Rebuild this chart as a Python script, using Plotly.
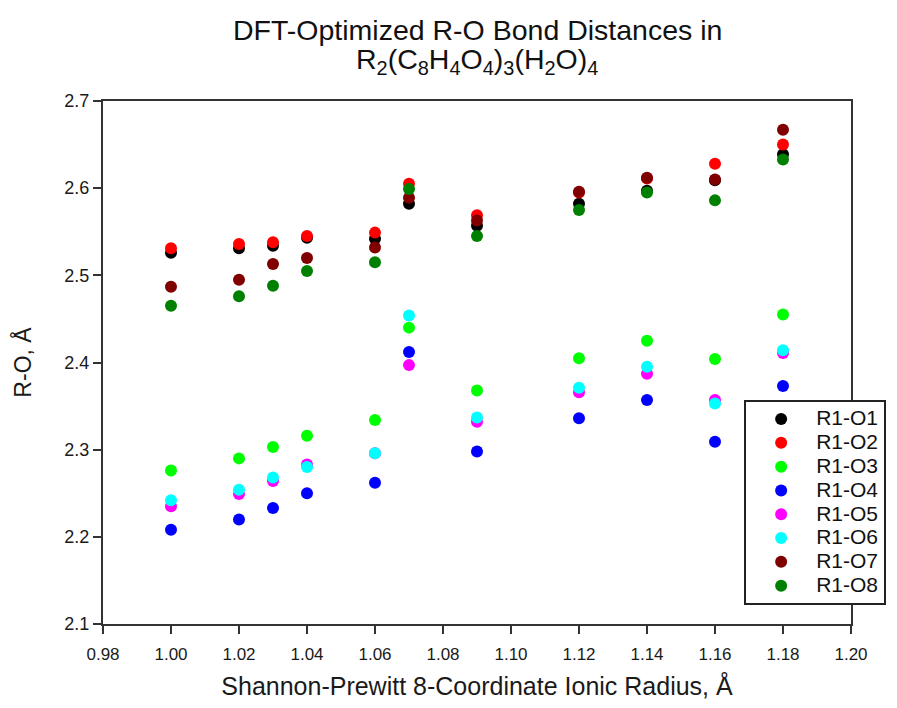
import plotly.graph_objects as go

# Shannon-Prewitt 8-coordinate ionic radii (Å)
radius = [1.00, 1.02, 1.03, 1.04, 1.06, 1.07, 1.09, 1.12, 1.14, 1.16, 1.18]

# DFT-optimized R1-O bond distances (Å)
r1_o1 = [2.526, 2.531, 2.534, 2.543, 2.542, 2.582, 2.557, 2.582, 2.597, 2.609, 2.639]
r1_o2 = [2.531, 2.536, 2.538, 2.545, 2.549, 2.605, 2.569, 2.595, 2.611, 2.628, 2.650]
r1_o3 = [2.276, 2.290, 2.303, 2.316, 2.334, 2.440, 2.368, 2.405, 2.425, 2.404, 2.455]
r1_o4 = [2.208, 2.220, 2.233, 2.250, 2.262, 2.412, 2.298, 2.336, 2.357, 2.309, 2.373]
r1_o5 = [2.235, 2.249, 2.264, 2.283, 2.296, 2.397, 2.332, 2.366, 2.387, 2.357, 2.411]
r1_o6 = [2.242, 2.254, 2.268, 2.280, 2.296, 2.454, 2.337, 2.371, 2.395, 2.353, 2.414]
r1_o7 = [2.487, 2.495, 2.513, 2.520, 2.532, 2.589, 2.563, 2.596, 2.612, 2.610, 2.667]
r1_o8 = [2.465, 2.476, 2.488, 2.505, 2.515, 2.599, 2.545, 2.575, 2.595, 2.586, 2.633]

series_names = ["R1-O1", "R1-O2", "R1-O3", "R1-O4", "R1-O5", "R1-O6", "R1-O7", "R1-O8"]
series_values = [r1_o1, r1_o2, r1_o3, r1_o4, r1_o5, r1_o6, r1_o7, r1_o8]
series_colors = ["#000000", "#FF0000", "#00FF00", "#0000FF",
                 "#FF00FF", "#00FFFF", "#800000", "#008000"]

x_ticks = [0.98, 1.00, 1.02, 1.04, 1.06, 1.08, 1.10, 1.12, 1.14, 1.16, 1.18, 1.20]
y_ticks = [2.1, 2.2, 2.3, 2.4, 2.5, 2.6, 2.7]

FONT = "Liberation Sans, Arial, sans-serif"

fig = go.Figure()
for name, vals, col in zip(series_names, series_values, series_colors):
    fig.add_trace(go.Scatter(
        x=radius, y=vals, mode="markers",
        # legend entries use a larger glyph size than the compact row spacing
        name=f'<span style="font-size:21px">{name}</span>',
        marker=dict(color=col, size=12, line=dict(width=0)),
    ))

# two-line chart title with chemical formula subscripts
fig.add_annotation(
    text="DFT-Optimized R-O Bond Distances in",
    xref="paper", yref="paper", x=0.5, y=(624 - 30) / 523,
    xanchor="center", yanchor="middle", showarrow=False,
    font=dict(family=FONT, size=28.5, color="#111111"),
)
fig.add_annotation(
    text="R<sub>2</sub>(C<sub>8</sub>H<sub>4</sub>O<sub>4</sub>)<sub>3</sub>(H<sub>2</sub>O)<sub>4</sub>",
    xref="paper", yref="paper", x=0.5, y=(624 - 61) / 523,
    xanchor="center", yanchor="middle", showarrow=False,
    font=dict(family=FONT, size=28.5, color="#111111"),
)

fig.update_layout(
    width=897, height=708,
    margin=dict(l=103, r=45, t=101, b=84),
    paper_bgcolor="white", plot_bgcolor="white",
    font=dict(family=FONT, color="#1a1a1a", size=17),
    showlegend=True,
    legend=dict(
        x=0.856, y=0.428, xanchor="left", yanchor="top",
        bgcolor="white", bordercolor="#222222", borderwidth=2,
        font=dict(family=FONT, size=16, color="#111111"),
        itemwidth=60, entrywidth=98, tracegroupgap=0,
    ),
)

fig.update_xaxes(
    range=[0.98, 1.20], tickvals=x_ticks,
    ticktext=[f"{v:.2f}" for v in x_ticks],
    showgrid=False, zeroline=False,
    showline=True, linecolor="#333333", linewidth=2, mirror=True,
    ticks="outside", ticklen=8, tickwidth=1.5, tickcolor="#333333",
    tickfont=dict(family=FONT, size=17), ticklabelstandoff=6,
    title=dict(text="Shannon-Prewitt 8-Coordinate Ionic Radius, Å",
               font=dict(family=FONT, size=25), standoff=14),
)
fig.update_yaxes(
    range=[2.1, 2.7], tickvals=y_ticks,
    ticktext=[f"{v:.1f}" for v in y_ticks],
    showgrid=False, zeroline=False,
    showline=True, linecolor="#333333", linewidth=2, mirror=True,
    ticks="outside", ticklen=8, tickwidth=1.5, tickcolor="#333333",
    tickfont=dict(family=FONT, size=18),
    title=dict(text="R-O, Å", font=dict(family=FONT, size=23), standoff=26),
)

fig.write_html("out.html")
